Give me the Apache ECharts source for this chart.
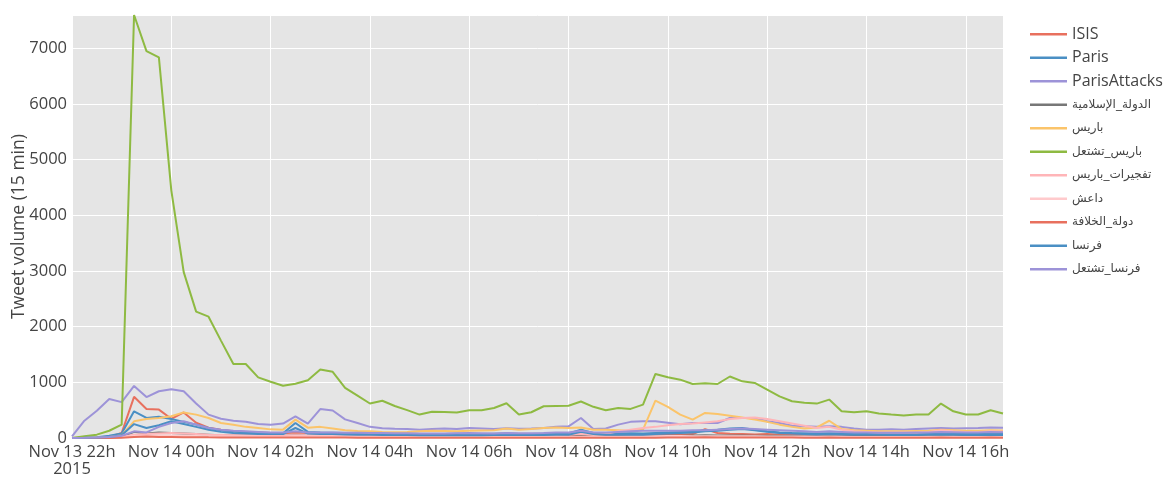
<!DOCTYPE html>
<html>
<head>
<meta charset="utf-8">
<script src="https://cdn.jsdelivr.net/npm/echarts@6/dist/echarts.min.js"></script>
<style>
html,body{margin:0;padding:0;background:#fff;}
#chart{width:1163px;height:477px;}
</style>
</head>
<body>
<div id="chart"></div>
<script>
// 15-minute bins starting Nov 13 2015, 22:00
var startHour = 22;
var binCount = 76;
var tickLabels = ["Nov 13 22h\n2015","Nov 14 00h","Nov 14 02h","Nov 14 04h","Nov 14 06h","Nov 14 08h","Nov 14 10h","Nov 14 12h","Nov 14 14h","Nov 14 16h"];
var seriesNames = ["ISIS","Paris","ParisAttacks","الدولة_الإسلامية","باريس","باريس_تشتعل","تفجيرات_باريس","داعش","دولة_الخلافة","فرنسا","فرنسا_تشتعل"];

var isis = [0,5,10,20,90,740,520,510,345,460, 275,185,150,120,110,100,90,85,100,90, 80,75,70,65,60,55,55,50,50,50, 50,50,55,50,50,55,50,50,55,50, 55,60,55,50,50,55,50,55,60,60, 70,160,90,75,70,65,70,60,60,55, 55,70,55,50,50,50,50,50,50,50, 60,55,50,50,55,50];
var paris = [0,5,15,40,80,480,360,380,340,290, 240,180,140,120,100,95,90,85,270,110, 100,95,90,85,80,80,75,75,70,70, 70,75,70,70,75,80,70,70,75,80, 80,150,90,80,80,85,80,90,100,110, 120,140,150,170,180,150,120,100,90,85, 80,85,80,75,75,75,70,70,70,75, 80,75,70,70,75,70];
var parisAttacks = [30,310,490,700,645,935,735,840,875,840, 620,420,345,310,290,250,240,260,390,260, 520,495,335,270,200,175,165,160,150,160, 170,160,180,170,160,175,165,170,180,200, 210,360,160,170,240,290,300,300,275,245, 270,270,270,360,360,360,300,270,220,210, 200,210,200,170,150,150,155,150,160,170, 180,170,175,180,190,185];
var dawlaIslamiya = [0,2,5,10,20,110,80,100,90,80, 70,60,50,45,45,40,40,40,50,40, 45,40,40,35,35,35,30,30,30,30, 30,30,35,30,30,35,30,30,30,35, 35,40,35,30,30,30,35,35,40,40, 45,50,45,45,45,40,40,40,35,35, 35,40,35,30,30,30,30,30,30,30, 35,30,30,30,35,30];
var barisAr = [0,5,10,20,50,300,340,360,390,460, 420,360,270,240,200,180,155,150,330,185, 200,170,140,125,120,110,105,110,120,130, 125,120,130,135,140,170,150,160,180,190, 180,190,150,150,140,125,150,670,560,420, 330,450,430,400,370,330,290,240,200,170, 190,310,160,140,130,120,120,120,125,130, 150,140,130,130,140,135];
var barisBurning = [0,30,60,130,240,7600,6950,6840,4450,2980, 2270,2180,1750,1330,1330,1090,1010,940,975,1036, 1230,1190,900,760,620,670,575,500,421,470, 465,460,498,500,540,625,421,463,570,575, 580,655,560,500,540,523,600,1150,1090,1048, 970,985,970,1105,1018,989,869,749,660,635, 618,690,480,462,480,440,421,403,421,421, 618,480,421,421,498,439];
var tafjirat = [0,2,5,10,20,60,70,80,90,80, 70,60,55,50,50,45,45,45,50,45, 50,50,45,45,40,40,40,40,40,40, 40,45,40,40,45,50,45,45,50,55, 60,70,60,70,120,150,180,200,230,250, 260,280,300,340,360,370,340,300,260,220, 180,200,150,120,110,100,100,100,100,110, 140,120,110,110,120,115];
var daesh = [0,2,5,8,15,40,35,45,40,35, 30,30,25,25,25,25,20,20,30,25, 25,25,25,20,20,20,20,20,20,20, 20,20,20,20,20,25,20,20,20,20, 20,20,25,25,25,30,30,30,35,35, 30,30,30,30,30,30,25,25,25,25, 25,25,25,20,20,20,20,20,20,25, 25,25,20,20,25,20];
var khilafa = [0,0,1,2,5,20,25,20,20,15, 15,12,10,10,10,8,8,8,10,8, 8,8,8,6,6,6,6,5,5,5, 5,5,6,5,5,6,5,5,5,6, 6,6,5,5,5,6,6,6,8,8, 10,12,10,10,10,8,8,8,8,6, 6,8,6,6,6,6,6,6,6,6, 8,6,6,6,8,6];
var faransa = [0,3,8,20,50,250,180,230,300,250, 200,150,110,90,80,70,70,70,180,80, 70,70,65,60,60,55,55,55,50,50, 50,55,50,50,55,60,55,55,55,60, 60,110,70,60,60,60,60,70,80,90, 100,120,130,150,160,140,110,90,80,70, 65,70,65,60,60,60,55,55,55,60, 65,60,55,55,60,55];
var faransaBurning = [0,3,8,20,40,120,100,200,270,300, 240,180,150,130,120,110,100,100,120,100, 100,100,95,95,90,90,85,85,80,80, 80,85,90,85,80,90,85,85,90,100, 100,130,100,100,110,120,130,130,130,130, 140,140,150,160,170,160,150,140,130,120, 110,120,110,100,100,95,95,95,100,100, 110,105,100,100,110,105];

var seriesValues = [isis, paris, parisAttacks, dawlaIslamiya, barisAr, barisBurning, tafjirat, daesh, khilafa, faransa, faransaBurning];
var colors = ["#E8705E","#4A8FC4","#9D93D8","#777777","#FBC46A","#8EBA42","#FFB5B8","#FFCACC","#E8705E","#4A8FC4","#9D93D8"];

// category labels (time of each bin)
var categories = [];
for (var i = 0; i < binCount; i++) {
  var mins = startHour * 60 + i * 15;
  var h = Math.floor(mins / 60) % 24, m = mins % 60;
  categories.push((h < 10 ? "0" : "") + h + ":" + (m < 10 ? "0" : "") + m);
}

var font = "'Open Sans', 'DejaVu Sans', sans-serif";
var chart = echarts.init(document.getElementById('chart'), null, {renderer: 'canvas'});
var series = seriesNames.map(function (n, idx) {
  return {
    name: n, type: 'line', data: seriesValues[idx], symbol: 'none',
    lineStyle: {width: 2, color: colors[idx]}, itemStyle: {color: colors[idx]},
    emphasis: {disabled: true}, animation: false
  };
});

chart.setOption({
  animation: false,
  color: colors,
  textStyle: {fontFamily: font},
  grid: {left: 72, right: 160, top: 15, bottom: 39, containLabel: false, outerBoundsMode: 'none',
    show: true, backgroundColor: '#E5E5E5', borderWidth: 0},
  legend: {
    orient: 'vertical', left: 1025, top: 21, icon: 'rect', itemWidth: 37, itemHeight: 2.5,
    itemGap: 7, itemStyle: {borderWidth: 0},
    textStyle: {fontFamily: font, fontSize: 16, color: '#444', lineHeight: 16.5,
      rich: {ar: {fontFamily: "'DejaVu Sans', sans-serif", fontSize: 12, color: '#444', lineHeight: 16.5}}},
    formatter: function (n) { return /[\u0600-\u06FF]/.test(n) ? '{ar|' + n + '}' : n; },
    data: seriesNames
  },
  xAxis: {
    type: 'category', data: categories, boundaryGap: false,
    axisLine: {show: false}, axisTick: {show: false},
    axisLabel: {
      interval: 7, color: '#444', fontSize: 16.5, fontFamily: font, margin: 6, lineHeight: 17,
      formatter: function (v, idx) { return tickLabels[idx / 8] || ''; }
    },
    splitLine: {show: true, interval: 7, lineStyle: {color: '#ffffff', width: 1}}
  },
  yAxis: {
    type: 'value', min: 0, max: 7600, interval: 1000,
    name: 'Tweet volume (15 min)', nameLocation: 'middle', nameGap: 44, nameMoveOverlap: false,
    nameTextStyle: {color: '#444', fontSize: 17.5, fontFamily: font},
    axisLine: {show: false}, axisTick: {show: false},
    axisLabel: {color: '#444', fontSize: 16.5, fontFamily: font, margin: 5, showMaxLabel: false,
      formatter: function (v) { return String(v); }},
    splitLine: {lineStyle: {color: '#ffffff', width: 1}}
  },
  series: series
});
</script>
</body>
</html>
